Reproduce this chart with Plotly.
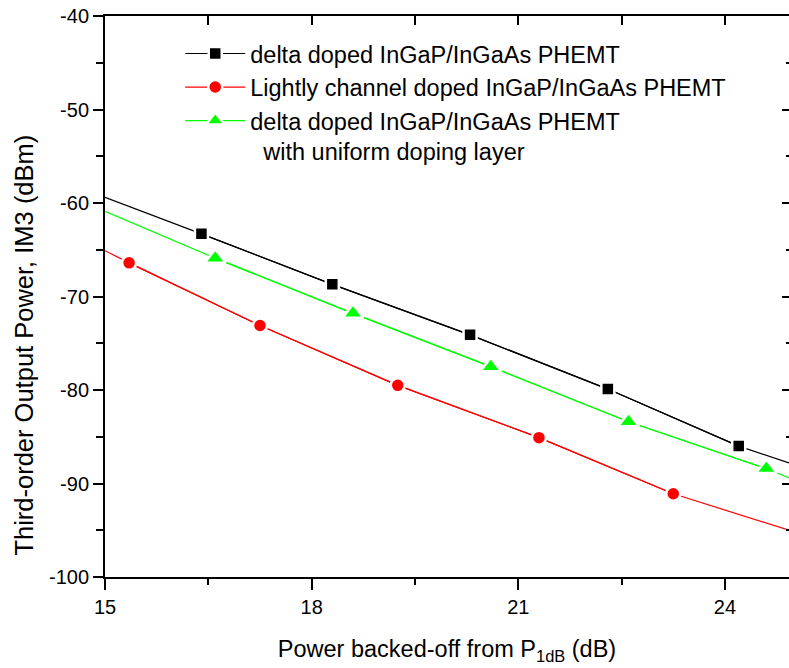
import plotly.graph_objects as go

# Measured third-order intermodulation output power vs. back-off from P1dB
black_x = [16.4, 18.3, 20.3, 22.3, 24.2]
black_y = [-63.3, -68.7, -74.1, -79.9, -86.0]
red_x = [15.35, 17.25, 19.25, 21.3, 23.25]
red_y = [-66.4, -73.1, -79.5, -85.1, -91.1]
green_x = [16.6, 18.6, 20.6, 22.6, 24.6]
green_y = [-65.9, -71.8, -77.5, -83.4, -88.4]

# Curve values where each trend line meets the plot edges
x_lo, x_hi = 15.0, 24.93
black_ends = [-59.4, -87.8]
red_ends = [-65.1, -95.0]
green_ends = [-60.9, -89.4]

# Axis ticks (labels use a plain hyphen for the minus sign)
x_ticks = [15, 18, 21, 24]
x_minor = [16.5, 19.5, 22.5]
x_top_ticks = [15, 16.5, 18, 19.5, 21, 22.5, 24]
y_ticks = [-100, -90, -80, -70, -60, -50, -40]
y_minor = [-95, -85, -75, -65, -55, -45]
y_ticktext = ["-100", "-90", "-80", "-70", "-60", "-50", "-40"]

names = [
    "delta doped InGaP/InGaAs PHEMT",
    "Lightly channel doped InGaP/InGaAs PHEMT",
    "delta doped InGaP/InGaAs PHEMT<br>\u00a0\u00a0with uniform doping layer",
]

FONT = "Liberation Sans, Arial, sans-serif"

series = [
    (black_x, black_y, black_ends, "#000000", "square", 13, names[0]),
    (red_x, red_y, red_ends, "#ff0000", "circle", 14, names[1]),
    (green_x, green_y, green_ends, "#00ff00", "triangle-up", 18, names[2]),
]

fig = go.Figure()

# trend lines running edge to edge
for xs, ys, ends, color, sym, size, name in series:
    fig.add_trace(go.Scatter(
        x=[x_lo] + xs + [x_hi], y=[ends[0]] + ys + [ends[1]],
        mode="lines", line=dict(color=color, width=1.2),
        showlegend=False, hoverinfo="skip",
    ))

# data points with a white halo that breaks the line around each symbol
for xs, ys, ends, color, sym, size, name in series:
    fig.add_trace(go.Scatter(
        x=xs, y=ys, mode="lines+markers", name=name,
        line=dict(color=color, width=1.2),
        marker=dict(symbol=sym, size=size, color=color,
                    line=dict(color="white", width=2.5)),
    ))

# helper trace so the mirrored top/right axes get drawn
fig.add_trace(go.Scatter(x=[x_lo], y=[-100], xaxis="x2", yaxis="y2",
                         mode="markers", marker=dict(opacity=0),
                         showlegend=False, hoverinfo="skip"))

tick_style = dict(tickwidth=2, tickcolor="black")

fig.update_layout(
    width=789, height=668,
    margin=dict(l=105, r=0, t=16, b=91),
    paper_bgcolor="white", plot_bgcolor="white",
    font=dict(family=FONT, color="black"),
    xaxis=dict(
        range=[x_lo, x_hi], tickmode="array", tickvals=x_ticks,
        ticktext=[str(v) for v in x_ticks],
        showgrid=False, zeroline=False,
        showline=True, linecolor="black", linewidth=2,
        ticks="outside", ticklen=11, **tick_style,
        minor=dict(tickmode="array", tickvals=x_minor, ticks="outside",
                   ticklen=6, showgrid=False, **tick_style),
        tickfont=dict(size=20, family=FONT),
        title=dict(text="Power backed-off from P<sub>1dB</sub> (dB)",
                   font=dict(size=23.5, family=FONT), standoff=24),
    ),
    yaxis=dict(
        range=[-100, -40], tickmode="array", tickvals=y_ticks,
        ticktext=y_ticktext,
        showgrid=False, zeroline=False,
        showline=True, linecolor="black", linewidth=2,
        ticks="outside", ticklen=10, **tick_style,
        minor=dict(tickmode="array", tickvals=y_minor, ticks="outside",
                   ticklen=7, showgrid=False, **tick_style),
        tickfont=dict(size=20, family=FONT),
    ),
    xaxis2=dict(
        overlaying="x", side="top", matches="x", range=[x_lo, x_hi],
        tickmode="array", tickvals=x_top_ticks, showticklabels=False,
        showgrid=False, zeroline=False,
        showline=True, linecolor="black", linewidth=2,
        ticks="inside", ticklen=9, **tick_style,
    ),
    yaxis2=dict(
        overlaying="y", side="right", matches="y", range=[-100, -40],
        tickmode="array", tickvals=y_ticks, showticklabels=False,
        showgrid=False, zeroline=False, showline=False,
        ticks="inside", ticklen=7, **tick_style,
        minor=dict(tickmode="array", tickvals=y_minor, ticks="inside",
                   ticklen=3, showgrid=False, **tick_style),
    ),
    legend=dict(
        x=0.11, y=0.972, xanchor="left", yanchor="top",
        bgcolor="rgba(0,0,0,0)", borderwidth=0,
        font=dict(size=23.5, family=FONT, color="black"),
        itemwidth=60, valign="top", tracegroupgap=0,
    ),
    annotations=[dict(
        text="Third-order Output Power, IM3 (dBm)",
        textangle=-90, xref="paper", yref="paper",
        x=-0.118, y=0.413, xanchor="center", yanchor="middle",
        showarrow=False, font=dict(size=25.5, family=FONT, color="black"),
    )],
)

fig.write_html("out.html")
